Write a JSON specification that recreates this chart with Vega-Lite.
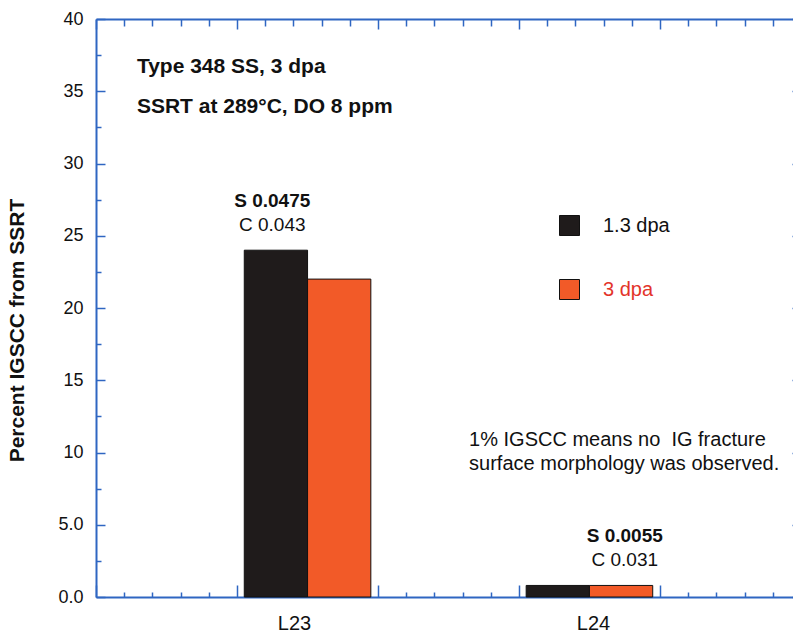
{
  "$schema": "https://vega.github.io/schema/vega-lite/v6.json",
  "width": 705,
  "height": 578,
  "autosize": {"type": "none"},
  "padding": {"left": 96, "top": 19, "right": 0, "bottom": 38},
  "background": "white",
  "config": {
    "view": {"stroke": null},
    "font": "Liberation Sans",
    "axis": {"domainColor": "#2f66c2", "tickColor": "#2f66c2", "grid": false, "domainWidth": 2, "tickWidth": 1.5}
  },
  "datasets": {
    "bars": [
      {"sample": "L23", "series": "1.3 dpa", "igscc": 24},
      {"sample": "L23", "series": "3 dpa", "igscc": 22},
      {"sample": "L24", "series": "1.3 dpa", "igscc": 0.8},
      {"sample": "L24", "series": "3 dpa", "igscc": 0.8}
    ],
    "notes": [
      {"sample": "L23", "s": "S 0.0475", "c": "C 0.043", "top": 24},
      {"sample": "L24", "s": "S 0.0055", "c": "C 0.031", "top": 0.8}
    ],
    "one": [{}]
  },
  "layer": [
    {
      "data": {"name": "bars"},
      "mark": {"type": "bar", "stroke": "#111111", "strokeWidth": 1},
      "encoding": {
        "x": {
          "field": "sample", "type": "nominal",
          "scale": {"domain": ["L23", "L24"], "paddingInner": 0.551, "paddingOuter": 0.526},
          "axis": {
            "orient": "bottom", "title": null, "ticks": false, "domain": false, "labelAngle": 0,
            "labelFontSize": 20, "labelColor": "#111111", "labelPadding": 16,
            "labelOffset": {"condition": {"test": "datum.value === 'L23'", "value": -13}, "value": 4}
          }
        },
        "xOffset": {"field": "series", "type": "nominal", "scale": {"domain": ["1.3 dpa", "3 dpa"], "paddingInner": 0, "paddingOuter": 0}},
        "y": {
          "field": "igscc", "type": "quantitative",
          "scale": {"domain": [0, 40], "nice": false},
          "axis": {
            "orient": "left",
            "title": "Percent IGSCC from SSRT",
            "titleFontSize": 21, "titleFontWeight": "bold", "titleColor": "#111111", "titlePadding": 30, "titleY": 311,
            "values": [0, 2.5, 5, 7.5, 10, 12.5, 15, 17.5, 20, 22.5, 25, 27.5, 30, 32.5, 35, 37.5, 40],
            "tickSize": {"condition": {"test": "datum.value % 5 === 0", "value": -9}, "value": -5},
            "labelExpr": "datum.value % 5 === 0 ? (datum.value < 10 ? format(datum.value, '.1f') : format(datum.value, 'd')) : ''",
            "labelFontSize": 18, "labelColor": "#111111", "labelPadding": 22
          }
        },
        "color": {
          "field": "series", "type": "nominal",
          "scale": {"domain": ["1.3 dpa", "3 dpa"], "range": ["#1f1b1b", "#f25a28"]},
          "legend": {
            "orient": "none", "legendX": 463, "legendY": 196, "title": null,
            "symbolType": "square", "symbolSize": 400, "symbolStrokeColor": "#111111", "symbolStrokeWidth": 1, "symbolOpacity": 1,
            "labelFontSize": 20, "labelOffset": 23, "rowPadding": 39, "padding": 0,
            "labelColor": {"expr": "datum.label === '3 dpa' ? '#e3342a' : '#111111'"}
          }
        }
      }
    },
    {
      "data": {"name": "notes"},
      "mark": {"type": "text", "fontWeight": "bold", "fontSize": 19, "dy": -43, "baseline": "alphabetic", "color": "#111111"},
      "encoding": {
        "x": {"field": "sample", "type": "nominal", "scale": {"domain": ["L23", "L24"], "paddingInner": 0.551, "paddingOuter": 0.526}, "axis": null},
        "y": {"field": "top", "type": "quantitative", "axis": null},
        "text": {"field": "s"}
      }
    },
    {
      "data": {"name": "notes"},
      "mark": {"type": "text", "fontSize": 19, "dy": -19, "baseline": "alphabetic", "color": "#111111"},
      "encoding": {
        "x": {"field": "sample", "type": "nominal", "scale": {"domain": ["L23", "L24"], "paddingInner": 0.551, "paddingOuter": 0.526}, "axis": null},
        "y": {"field": "top", "type": "quantitative", "axis": null},
        "text": {"field": "c"}
      }
    },
    {
      "data": {"name": "one"},
      "mark": {"type": "point", "opacity": 0},
      "encoding": {
        "x": {
          "datum": 0, "type": "quantitative",
          "scale": {"domain": [0, 25], "nice": false},
          "axis": {
            "orient": "bottom", "title": null, "labels": false,
            "values": [0, 1, 2, 3, 4, 5, 6, 7, 8, 9, 10, 11, 12, 13, 14, 15, 16, 17, 18, 19, 20, 21, 22, 23, 24, 25],
            "tickSize": {"condition": {"test": "datum.value % 5 === 0", "value": -12}, "value": -5}
          }
        },
        "y": {
          "datum": 0, "type": "quantitative",
          "axis": {
            "orient": "right", "title": null, "labels": false,
            "values": [0, 2.5, 5, 7.5, 10, 12.5, 15, 17.5, 20, 22.5, 25, 27.5, 30, 32.5, 35, 37.5, 40],
            "tickSize": {"condition": {"test": "datum.value % 5 === 0", "value": -9}, "value": -5}
          }
        }
      }
    },
    {
      "data": {"name": "one"},
      "mark": {"type": "point", "opacity": 0},
      "encoding": {
        "x": {
          "datum": 0, "type": "quantitative",
          "scale": {"domain": [0, 25], "nice": false},
          "axis": {
            "orient": "top", "title": null, "labels": false,
            "values": [0, 1, 2, 3, 4, 5, 6, 7, 8, 9, 10, 11, 12, 13, 14, 15, 16, 17, 18, 19, 20, 21, 22, 23, 24, 25],
            "tickSize": {"condition": {"test": "datum.value % 5 === 0", "value": -10}, "value": -7}
          }
        },
        "y": {"datum": 0, "type": "quantitative", "axis": null}
      }
    },
    {
      "data": {"name": "one"},
      "mark": {"type": "text", "text": ["Type 348 SS, 3 dpa", "SSRT at 289°C, DO 8 ppm"], "align": "left", "baseline": "alphabetic", "fontSize": 21, "fontWeight": "bold", "lineHeight": 40, "color": "#111111"},
      "encoding": {
        "x": {"datum": 1.45, "type": "quantitative", "scale": {"domain": [0, 25], "nice": false}, "axis": null},
        "y": {"datum": 36.28, "type": "quantitative", "axis": null}
      }
    },
    {
      "data": {"name": "one"},
      "mark": {"type": "text", "text": ["1% IGSCC means no\u00a0 IG fracture", "surface morphology was observed."], "align": "left", "baseline": "alphabetic", "fontSize": 20, "lineHeight": 24, "color": "#111111"},
      "encoding": {
        "x": {"datum": 13.23, "type": "quantitative", "scale": {"domain": [0, 25], "nice": false}, "axis": null},
        "y": {"datum": 10.45, "type": "quantitative", "axis": null}
      }
    }
  ],
  "resolve": {"scale": {"x": "independent"}, "axis": {"x": "independent", "y": "independent"}}
}
